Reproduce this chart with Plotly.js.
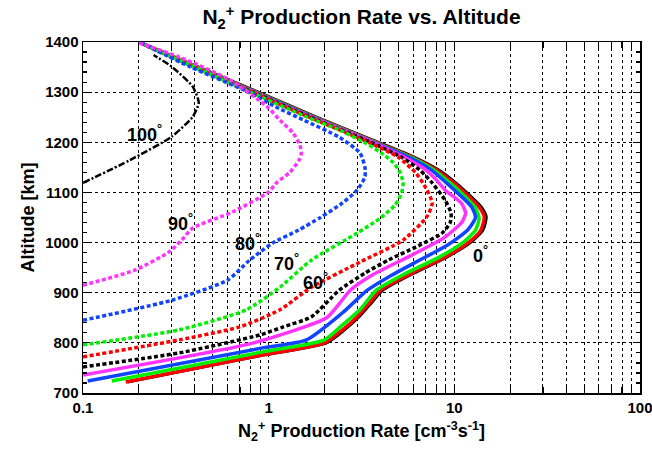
<!DOCTYPE html>
<html>
<head>
<meta charset="utf-8">
<script src="https://cdn.plot.ly/plotly-3.0.1.min.js"></script>
<style>html,body{margin:0;padding:0;background:#fff}#chart{width:652px;height:450px}</style>
</head>
<body>
<div id="chart"></div>
<script>
// Solar zenith angle curves: altitude [km] and N2+ production rate [cm^-3 s^-1]
const alt0 = [722, 776, 800, 826, 852, 880, 905, 939, 971, 1001, 1025, 1051, 1071, 1099, 1120, 1145, 1170, 1200, 1250, 1300, 1350, 1400];
const rate0 = [0.174, 0.95, 2.05, 2.56, 3.07, 3.58, 4.1, 6.05, 9.1, 12.3, 14.25, 14.85, 13.95, 11.7, 10.1, 8.2, 6.1, 3.9, 1.81, 0.88, 0.42, 0.2];

const alt10 = [722, 776, 800, 826, 852, 880, 905, 939, 971, 1001, 1025, 1051, 1071, 1099, 1120, 1145, 1170, 1200, 1250, 1300, 1350, 1400];
const rate10 = [0.17, 0.93, 2.0, 2.5, 3.0, 3.5, 4.0, 5.9, 8.9, 12.0, 13.9, 14.5, 13.6, 11.4, 9.85, 8.0, 5.95, 3.8, 1.77, 0.86, 0.41, 0.2];

const alt20 = [724, 782, 806, 836, 866, 905, 939, 971, 1001, 1025, 1048, 1071, 1099, 1120, 1145, 1170, 1200, 1250, 1300, 1350, 1400];
const rate20 = [0.143, 0.93, 2.0, 2.5, 3.1, 3.8, 5.5, 8.3, 11.2, 13.0, 13.6, 12.9, 10.9, 9.4, 7.75, 5.85, 3.75, 1.75, 0.85, 0.41, 0.2];

const alt30 = [724, 790, 806, 860, 905, 931, 961, 995, 1025, 1050, 1071, 1099, 1120, 1145, 1170, 1200, 1250, 1300, 1350, 1400];
const rate30 = [0.106, 0.93, 1.6, 2.5, 3.4, 4.4, 6.2, 9.2, 11.8, 13.0, 12.4, 10.4, 9.0, 7.5, 5.7, 3.7, 1.73, 0.84, 0.4, 0.2];

const alt40 = [736, 800, 850, 878, 905, 935, 975, 1011, 1041, 1059, 1079, 1105, 1125, 1145, 1170, 1200, 1250, 1300, 1350, 1400];
const rate40 = [0.1, 0.83, 2.05, 2.4, 2.75, 3.6, 5.9, 8.9, 11.0, 11.5, 10.9, 8.9, 8.0, 7.0, 5.4, 3.65, 1.7, 0.83, 0.4, 0.2];

const alt50 = [752, 780, 816, 832, 852, 905, 939, 965, 991, 1019, 1040, 1059, 1085, 1119, 1145, 1170, 1200, 1250, 1300, 1350, 1400];
const rate50 = [0.1, 0.33, 0.9, 1.2, 1.7, 2.4, 3.3, 4.4, 6.2, 8.6, 9.5, 9.6, 8.9, 7.6, 6.5, 5.2, 3.55, 1.68, 0.82, 0.4, 0.2];

const alt60 = [772, 806, 832, 866, 911, 961, 1005, 1051, 1079, 1110, 1139, 1170, 1200, 1250, 1300, 1350, 1400];
const rate60 = [0.1, 0.33, 0.7, 1.15, 1.7, 3.1, 5.3, 7.1, 7.6, 7.0, 6.2, 5.0, 3.45, 1.65, 0.81, 0.4, 0.2];

const alt70 = [796, 826, 866, 911, 965, 1019, 1049, 1075, 1099, 1120, 1140, 1159, 1180, 1199, 1225, 1250, 1300, 1350, 1400];
const rate70 = [0.1, 0.33, 0.76, 1.15, 1.7, 3.0, 4.0, 4.8, 5.2, 5.3, 5.1, 4.7, 4.0, 3.3, 2.4, 1.62, 0.8, 0.4, 0.2];

const alt80 = [845, 885, 925, 965, 999, 1025, 1050, 1079, 1105, 1131, 1150, 1179, 1210, 1244, 1270, 1300, 1350, 1400];
const rate80 = [0.1, 0.3, 0.6, 0.79, 1.05, 1.45, 1.9, 2.5, 3.0, 3.3, 3.3, 3.1, 2.4, 1.55, 1.1, 0.78, 0.38, 0.2];

const alt90 = [915, 945, 981, 1005, 1029, 1061, 1101, 1119, 1140, 1165, 1179, 1195, 1219, 1244, 1271, 1324, 1370, 1398];
const rate90 = [0.1, 0.19, 0.29, 0.34, 0.39, 0.64, 1.0, 1.1, 1.3, 1.46, 1.5, 1.47, 1.35, 1.15, 0.98, 0.62, 0.33, 0.2];

const alt100 = [1119, 1165, 1211, 1251, 1279, 1311, 1351, 1374];
const rate100 = [0.1, 0.18, 0.3, 0.39, 0.42, 0.39, 0.3, 0.24];

// Angle labels
const labelText = ["100°", "90°", "80°", "70°", "60°", "0°"];
const labelRate = [0.215, 0.335, 0.77, 1.24, 1.78, 13.9];
const labelAlt = [1217, 1041, 1001, 961, 923, 977];

const xMinorTicks = [0.2,0.3,0.4,0.5,0.6,0.7,0.8,0.9,2,3,4,5,6,7,8,9,20,30,40,50,60,70,80,90];

const DOT = "4px,2.5px";
const series = [
  {x: rate0, y: alt0, color: "#000000", width: 3, dash: "solid"},
  {x: rate10, y: alt10, color: "#ff0000", width: 3.5, dash: "solid"},
  {x: rate20, y: alt20, color: "#00ee00", width: 3.5, dash: "solid"},
  {x: rate30, y: alt30, color: "#1144ff", width: 3.5, dash: "solid"},
  {x: rate40, y: alt40, color: "#ff33ff", width: 3.5, dash: "solid"},
  {x: rate50, y: alt50, color: "#000000", width: 3.5, dash: DOT},
  {x: rate60, y: alt60, color: "#ff0000", width: 3.5, dash: DOT},
  {x: rate70, y: alt70, color: "#00ee00", width: 3.5, dash: DOT},
  {x: rate80, y: alt80, color: "#1144ff", width: 3.5, dash: DOT},
  {x: rate90, y: alt90, color: "#ff33ff", width: 3.5, dash: DOT},
  {x: rate100, y: alt100, color: "#000000", width: 2.5, dash: "7px,2px,2px,2px"}
];

const traces = series.map(s => ({
  type: "scatter", mode: "lines", x: s.x, y: s.y,
  line: {color: s.color, width: s.width, dash: s.dash, shape: "spline", smoothing: 0.6},
  hoverinfo: "skip", showlegend: false
}));

const FONT = "Liberation Sans, Arial, Helvetica, sans-serif";

const annotations = labelText.map((t, i) => ({
  x: Math.log10(labelRate[i]), y: labelAlt[i], xref: "x", yref: "y",
  text: t.replace("°", "<sup>°</sup>"), showarrow: false,
  font: {family: FONT, size: 18, color: "#000", weight: "bold"}
}));

const layout = {
  width: 652, height: 450,
  margin: {l: 83, r: 12, t: 42, b: 57},
  paper_bgcolor: "#fff", plot_bgcolor: "#fff",
  title: {
    text: "N<sub>2</sub><sup>+</sup> Production Rate vs. Altitude",
    font: {family: FONT, size: 21, color: "#000", weight: "bold"},
    xref: "paper", x: 0.5, xanchor: "center", yref: "container", y: 0.962, yanchor: "middle"
  },
  xaxis: {
    type: "log", range: [-1, 2], dtick: 1,
    tickvals: [0.1, 1, 10, 100], ticktext: ["0.1", "1", "10", "100"],
    ticks: "inside", ticklen: 6, tickwidth: 1.2, tickcolor: "#000",
    ticklabeloverflow: "allow",
    showline: true, linecolor: "#000", linewidth: 1.5, mirror: "allticks",
    showgrid: true, gridcolor: "#000", gridwidth: 1, griddash: "dot",
    zeroline: false,
    tickfont: {family: FONT, size: 15, color: "#000", weight: "bold"},
    minor: {tickmode: "array", tickvals: xMinorTicks, ticks: "inside", ticklen: 6, tickwidth: 1.2, tickcolor: "#000",
            showgrid: true, gridcolor: "#000", gridwidth: 1, griddash: "dot"},
    title: {text: "N<sub>2</sub><sup>+</sup> Production Rate [cm<sup>-3</sup>s<sup>-1</sup>]",
            font: {family: FONT, size: 18, color: "#000", weight: "bold"}, standoff: 10}
  },
  yaxis: {
    range: [700, 1400], dtick: 100, tick0: 700,
    ticks: "inside", ticklen: 7, tickwidth: 1.2, tickcolor: "#000",
    showline: true, linecolor: "#000", linewidth: 1.5, mirror: "allticks",
    showgrid: true, gridcolor: "#000", gridwidth: 1, griddash: "dot",
    zeroline: false,
    tickfont: {family: FONT, size: 15, color: "#000", weight: "bold"},
    minor: {dtick: 20, ticks: "inside", ticklen: 4, tickwidth: 1.2, tickcolor: "#000", showgrid: false},
    title: {text: "Altitude [km]", font: {family: FONT, size: 18, color: "#000", weight: "bold"}, standoff: 6}
  },
  annotations: annotations
};

Plotly.newPlot("chart", traces, layout, {staticPlot: true, displayModeBar: false});
</script>
</body>
</html>
